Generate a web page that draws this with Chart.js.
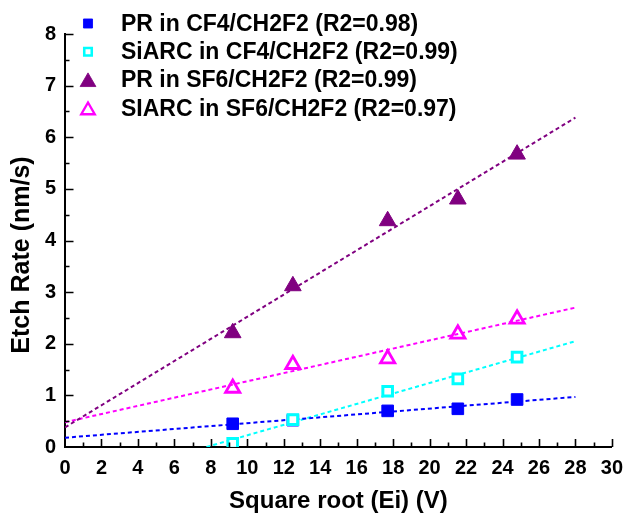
<!DOCTYPE html>
<html>
<head>
<meta charset="utf-8">
<script src="https://cdn.jsdelivr.net/npm/chart.js@4.4.0/dist/chart.umd.min.js"></script>
<style>
  html, body { margin: 0; padding: 0; background: #fff; }
</style>
</head>
<body>
<canvas id="myChart" width="632" height="517"></canvas>
<script>
const sqrtEi = [9.2, 12.5, 17.7, 21.55, 24.8];
const prCF4 = [0.45, 0.52, 0.70, 0.74, 0.92];
const siarcCF4 = [0.07, 0.53, 1.08, 1.32, 1.74];
const prSF6 = [2.21, 3.12, 4.38, 4.80, 5.67];
const siarcSF6 = [1.14, 1.60, 1.71, 2.19, 2.48];

// ends of the linear fits
const fitPrCF4X = [0, 28];
const fitPrCF4 = [0.18, 0.97];
const fitSiarcCF4X = [7.76, 28];
const fitSiarcCF4 = [0, 2.05];
const fitPrSF6X = [0, 28];
const fitPrSF6 = [0.38, 6.38];
const fitSiarcSF6X = [0, 28];
const fitSiarcSF6 = [0.48, 2.70];

const seriesLabels = [
  "PR in CF4/CH2F2 (R2=0.98)",
  "SiARC in CF4/CH2F2 (R2=0.99)",
  "PR in SF6/CH2F2 (R2=0.99)",
  "SIARC in SF6/CH2F2 (R2=0.97)",
];
const xTitle = "Square root (Ei) (V)";
const yTitle = "Etch Rate (nm/s)";

const FONT = "'Liberation Sans', Arial, sans-serif";

function pts(xs, ys) {
  return xs.map((x, i) => ({ x: x, y: ys[i] }));
}

function fitLine(xs, ys, color) {
  return {
    type: "line",
    data: pts(xs, ys),
    borderColor: color,
    borderWidth: 2,
    borderDash: [4, 3],
    pointRadius: 0,
    fill: false,
    order: 10,
    isFit: true,
  };
}

const data = {
  datasets: [
    {
      label: seriesLabels[0],
      data: pts(sqrtEi, prCF4),
      pointStyle: "rect",
      pointRadius: 8.2,
      backgroundColor: "#0000ff",
      borderColor: "#0000ff",
      borderWidth: 1,
      order: 4,
    },
    {
      label: seriesLabels[1],
      data: pts(sqrtEi, siarcCF4),
      pointStyle: "rect",
      pointRadius: 6.8,
      backgroundColor: "#ffffff",
      borderColor: "#00ffff",
      borderWidth: 3,
      order: 3,
    },
    {
      label: seriesLabels[2],
      data: pts(sqrtEi, prSF6),
      pointStyle: "triangle",
      pointRadius: 9.6,
      backgroundColor: "#800080",
      borderColor: "#800080",
      borderWidth: 1,
      order: 2,
    },
    {
      label: seriesLabels[3],
      data: pts(sqrtEi, siarcSF6),
      pointStyle: "triangle",
      pointRadius: 8.2,
      backgroundColor: "rgba(255,255,255,0)",
      borderColor: "#ff00ff",
      borderWidth: 2.8,
      order: 1,
    },
    fitLine(fitPrCF4X, fitPrCF4, "#0000ff"),
    fitLine(fitSiarcCF4X, fitSiarcCF4, "#00ffff"),
    fitLine(fitPrSF6X, fitPrSF6, "#800080"),
    fitLine(fitSiarcSF6X, fitSiarcSF6, "#ff00ff"),
  ],
};

// ticks pointing into the plot, with minor ticks, plus the y title
const innerTicks = {
  id: "innerTicks",
  afterDraw(chart) {
    const { ctx, chartArea, scales } = chart;
    ctx.save();
    ctx.strokeStyle = "#000";
    ctx.lineWidth = 1.6;
    ctx.beginPath();
    for (let v = 1; v <= 30; v += 1) {
      const px = Math.round(scales.x.getPixelForValue(v)) + 0.5;
      const len = v % 2 === 0 ? 8 : 4.5;
      ctx.moveTo(px, chartArea.bottom);
      ctx.lineTo(px, chartArea.bottom - len);
    }
    for (let v = 0.5; v <= 8; v += 0.5) {
      const py = Math.round(scales.y.getPixelForValue(v)) + 0.5;
      const len = v % 1 === 0 ? 8.5 : 4.5;
      ctx.moveTo(chartArea.left, py);
      ctx.lineTo(chartArea.left + len, py);
    }
    ctx.stroke();

    ctx.fillStyle = "#000";
    ctx.font = "bold 25px " + FONT;
    ctx.textAlign = "center";
    ctx.textBaseline = "middle";
    ctx.translate(22, 255);
    ctx.rotate(-Math.PI / 2);
    ctx.fillText(yTitle, 0, 0);
    ctx.restore();
  },
};

// legend in the upper left corner
const cornerLegend = {
  id: "cornerLegend",
  afterDraw(chart) {
    const { ctx } = chart;
    const rows = [23.5, 51.7, 80, 108.3];
    ctx.save();
    chart.data.datasets.forEach((ds, i) => {
      if (ds.isFit) return;
      const y = rows[i];
      const x = 88;
      ctx.fillStyle = ds.backgroundColor;
      ctx.strokeStyle = ds.borderColor;
      ctx.lineWidth = ds.borderWidth * 0.85;
      ctx.beginPath();
      if (ds.pointStyle === "rect") {
        const s = ds.pointRadius * Math.SQRT2 * 0.78;
        ctx.rect(x - s / 2, y - s / 2, s, s);
      } else {
        const r = ds.pointRadius * 0.95;
        for (let k = 0; k < 3; k++) {
          const a = (k * 2 * Math.PI) / 3;
          const px = x + Math.sin(a) * r;
          const py = y + 2 - Math.cos(a) * r;
          if (k === 0) ctx.moveTo(px, py);
          else ctx.lineTo(px, py);
        }
        ctx.closePath();
      }
      ctx.fill();
      ctx.stroke();
      ctx.fillStyle = "#000";
      ctx.font = "bold 23px " + FONT;
      ctx.textAlign = "left";
      ctx.textBaseline = "middle";
      ctx.fillText(ds.label, 121, y + 1);
    });
    ctx.restore();
  },
};

const config = {
  type: "scatter",
  data: data,
  options: {
    responsive: false,
    animation: false,
    layout: {
      padding: { top: 34, right: 11, left: 0, bottom: 0 },
    },
    scales: {
      x: {
        type: "linear",
        min: 0,
        max: 30,
        afterFit: (scale) => {
          scale.height = 70;
        },
        border: { display: true, color: "#000", width: 2 },
        grid: { display: false, drawTicks: false },
        ticks: {
          stepSize: 2,
          color: "#000",
          padding: 9,
          font: { family: FONT, size: 20, weight: "bold" },
        },
        title: {
          display: true,
          text: xTitle,
          color: "#000",
          padding: { top: 0, bottom: 1 },
          font: { family: FONT, size: 24, weight: "bold" },
        },
      },
      y: {
        type: "linear",
        min: 0,
        max: 8,
        afterFit: (scale) => {
          scale.width = 65;
        },
        border: { display: true, color: "#000", width: 2 },
        grid: { display: false, drawTicks: false },
        ticks: {
          stepSize: 1,
          color: "#000",
          padding: 9,
          font: { family: FONT, size: 20, weight: "bold" },
        },
      },
    },
    plugins: {
      legend: { display: false },
      tooltip: { enabled: false },
    },
  },
  plugins: [innerTicks, cornerLegend],
};

const myChart = new Chart(document.getElementById("myChart"), config);
</script>
</body>
</html>
